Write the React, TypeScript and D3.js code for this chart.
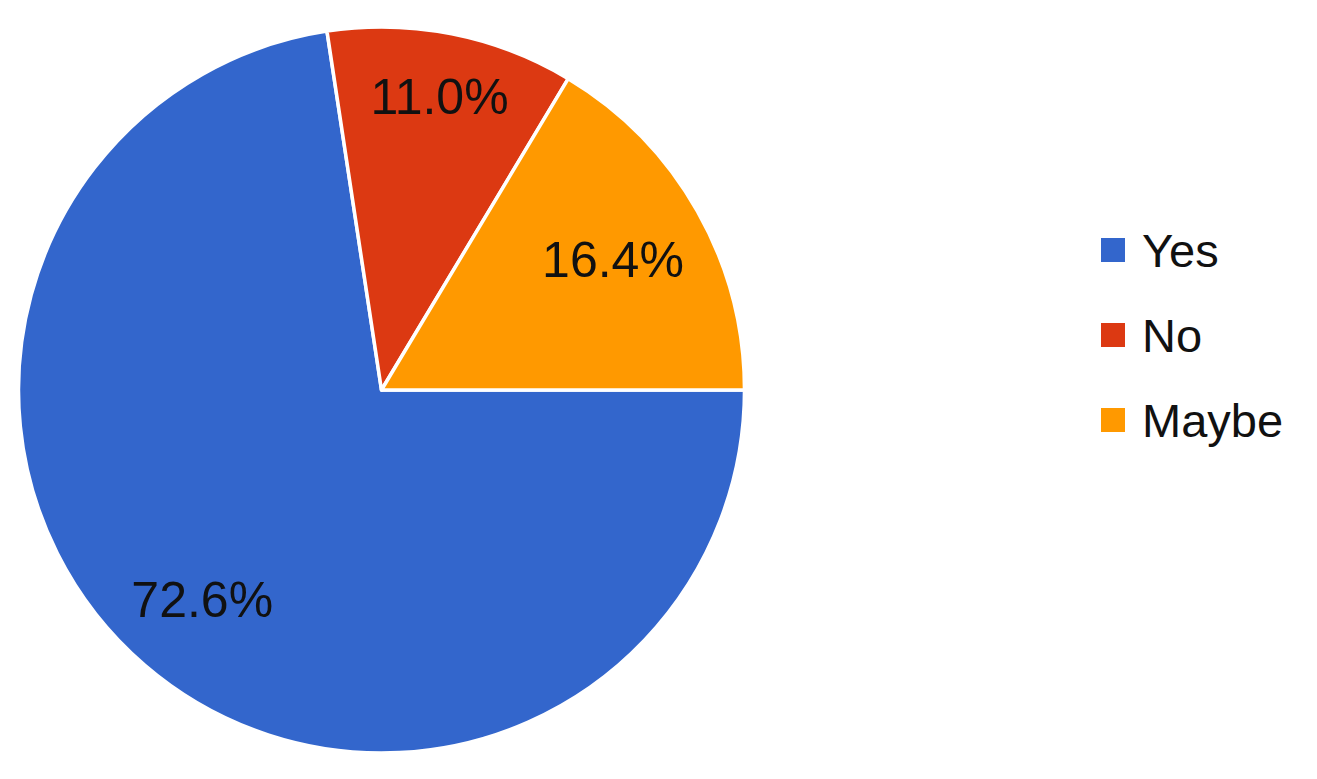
import { useEffect, useRef } from 'react'
import * as d3 from 'd3'

const categories = ['Yes', 'No', 'Maybe']
const shares = [72.6, 11.0, 16.4]
const colors = ['#3366cc', '#dc3912', '#ff9900']

const WIDTH = 1317
const HEIGHT = 779
const CENTER = { x: 381.5, y: 390 }
const RADIUS = 363
const FONT = 'Arial, "Liberation Sans", sans-serif'
const LABEL_SIZE = 50
const LEGEND = { x: 1101, y: 250, step: 85, box: 24, size: 47 }

export default function App() {
  const svgRef = useRef<SVGSVGElement | null>(null)

  useEffect(() => {
    if (!svgRef.current) return
    const svg = d3.select(svgRef.current)
    svg.selectAll('*').remove()

    const data = categories.map((name, i) => ({ name, value: shares[i], color: colors[i] }))

    const pie = d3.pie<typeof data[number]>()
      .value((d) => d.value)
      .sort(null)
      .startAngle(Math.PI / 2)
      .endAngle(Math.PI / 2 + Math.PI * 2)

    const arc = d3.arc<d3.PieArcDatum<typeof data[number]>>()
      .innerRadius(0)
      .outerRadius(RADIUS)

    const g = svg.append('g').attr('transform', `translate(${CENTER.x},${CENTER.y})`)
    const arcs = pie(data)

    // ── Slices ───────────────────────────────────────────────────────────
    g.selectAll('path.slice').data(arcs).join('path')
      .attr('class', 'slice')
      .attr('d', arc)
      .attr('fill', (d) => d.data.color)
      .attr('stroke', '#ffffff')
      .attr('stroke-width', 3.5)
      .attr('stroke-linejoin', 'round')

    // ── Percent labels: pushed outward until the box reaches ~0.93r ──────
    const labels = g.selectAll('text.pct').data(arcs).join('text')
      .attr('class', 'pct')
      .attr('font-family', FONT)
      .attr('font-size', LABEL_SIZE)
      .attr('fill', '#111')
      .attr('text-anchor', 'middle')
      .text((d) => `${d.data.value.toFixed(1)}%`)

    labels.each(function (d) {
      const node = this as SVGTextElement
      const w = node.getComputedTextLength()
      const h = LABEL_SIZE * 0.72
      const mid = (d.startAngle + d.endAngle) / 2
      const ux = Math.sin(mid)
      const uy = -Math.cos(mid)
      const target = RADIUS * 0.93
      let dist = 0
      for (let t = 0; t < RADIUS; t += 1) {
        const cx = ux * t
        const cy = uy * t
        const fx = cx + Math.sign(ux || 1) * w / 2
        const fy = cy + Math.sign(uy || 1) * h / 2
        if (Math.hypot(fx, fy) > target) break
        dist = t
      }
      d3.select(node)
        .attr('x', ux * dist)
        .attr('y', uy * dist + h / 2)
    })

    // ── Legend ───────────────────────────────────────────────────────────
    const legend = svg.append('g')
    const rows = legend.selectAll('g').data(data).join('g')
      .attr('transform', (_, i) => `translate(${LEGEND.x},${LEGEND.y + i * LEGEND.step})`)

    rows.append('rect')
      .attr('x', 0).attr('y', -LEGEND.box / 2)
      .attr('width', LEGEND.box).attr('height', LEGEND.box)
      .attr('fill', (d) => d.color)

    rows.append('text')
      .attr('x', 41).attr('y', LEGEND.size * 0.36)
      .attr('font-family', FONT)
      .attr('font-size', LEGEND.size)
      .attr('fill', '#111')
      .text((d) => d.name)
  }, [])

  return (
    <svg
      ref={svgRef}
      width={WIDTH}
      height={HEIGHT}
      style={{ position: 'absolute', left: 0, top: 0, display: 'block', background: '#fff' }}
    />
  )
}
